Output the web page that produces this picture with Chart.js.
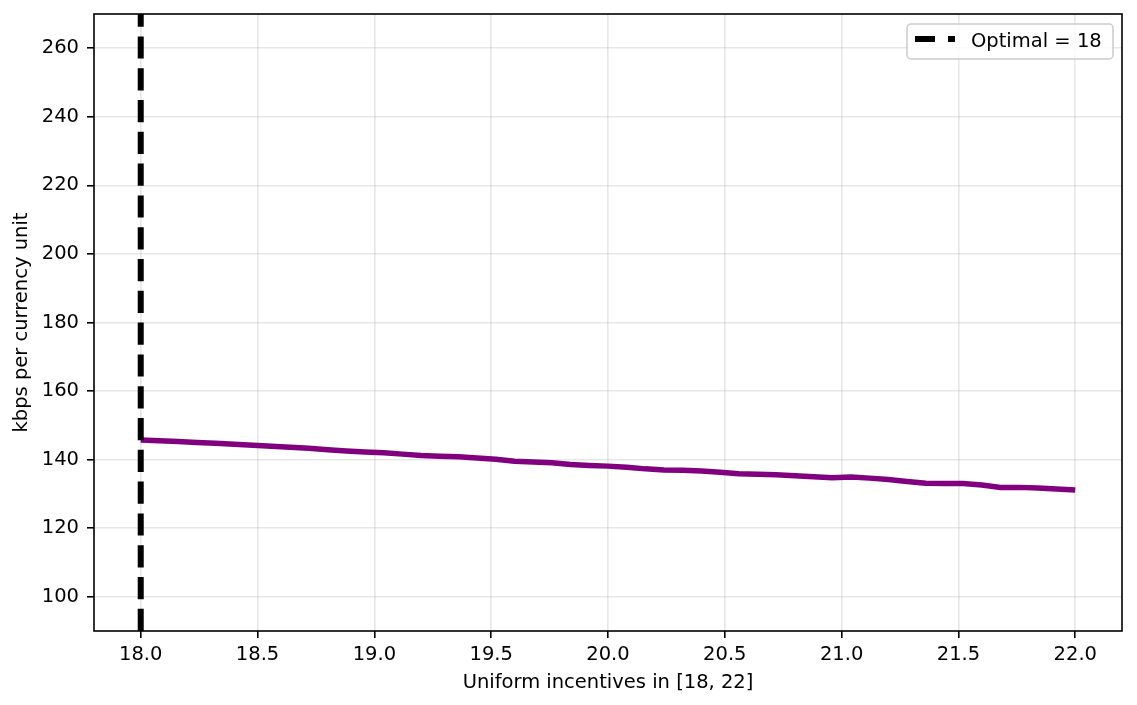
<!DOCTYPE html>
<html>
<head>
<meta charset="utf-8">
<script src="https://cdn.jsdelivr.net/npm/chart.js@4.4.1/dist/chart.umd.min.js"></script>
<style>
  html, body { margin: 0; padding: 0; background: #fff; }
  #wrap { width: 1137px; height: 705px; position: relative; }
</style>
</head>
<body>
<div id="wrap"><canvas id="chart" width="1137" height="705"></canvas></div>
<script>
// incentive values (x) and throughput per currency unit (y)
const incentives = [
  18.00, 18.08, 18.16, 18.24, 18.32, 18.40, 18.48, 18.56, 18.64, 18.72,
  18.80, 18.88, 18.96, 19.04, 19.12, 19.20, 19.28, 19.36, 19.44, 19.52,
  19.60, 19.68, 19.76, 19.84, 19.92, 20.00, 20.08, 20.16, 20.24, 20.32,
  20.40, 20.48, 20.56, 20.64, 20.72, 20.80, 20.88, 20.96, 21.04, 21.12,
  21.20, 21.28, 21.36, 21.44, 21.52, 21.60, 21.68, 21.76, 21.84, 21.92,
  22.00
];
const kbpsPerUnit = [
  145.7, 145.5, 145.3, 145.0, 144.8, 144.5, 144.2, 143.9, 143.6, 143.3,
  142.9, 142.5, 142.2, 142.0, 141.6, 141.2, 141.0, 140.8, 140.5, 140.1,
  139.5, 139.3, 139.1, 138.6, 138.3, 138.1, 137.8, 137.3, 137.0, 136.9,
  136.7, 136.3, 135.9, 135.7, 135.6, 135.3, 135.0, 134.7, 134.9, 134.6,
  134.2, 133.6, 133.1, 133.0, 133.0, 132.6, 131.9, 131.9, 131.7, 131.4,
  131.1
];
const optimalIncentive = 18;
const optimalLabel = 'Optimal = 18';
const xTicks = [18.0, 18.5, 19.0, 19.5, 20.0, 20.5, 21.0, 21.5, 22.0];
const yTicks = [100, 120, 140, 160, 180, 200, 220, 240, 260];
const xRange = [17.8, 22.2];
const yRange = [90, 270];

const FONT = { family: '"DejaVu Sans", sans-serif', size: 19.5 };
const DASH = [22.2, 9.6];
const GRID = 'rgba(176,176,176,0.3)';

// full box around the plot area (matplotlib style spines)
const frame = {
  id: 'frame',
  afterDraw(chart) {
    const { ctx, chartArea: a } = chart;
    ctx.save();
    ctx.strokeStyle = '#000';
    ctx.lineWidth = 1.6;
    ctx.strokeRect(a.left, a.top, a.right - a.left, a.bottom - a.top);
    ctx.restore();
  }
};

// legend box in the upper right corner
const boxLegend = {
  id: 'boxLegend',
  afterDraw(chart) {
    const { ctx, chartArea: a } = chart;
    const w = 206, h = 35;
    const x = a.right - 9 - w, y = a.top + 10;
    ctx.save();
    ctx.beginPath();
    ctx.roundRect(x, y, w, h, 4);
    ctx.fillStyle = 'rgba(255,255,255,0.8)';
    ctx.fill();
    ctx.strokeStyle = '#cccccc';
    ctx.lineWidth = 1.5;
    ctx.stroke();
    const cy = y + 15;
    ctx.beginPath();
    ctx.setLineDash([20, 13]);
    ctx.lineWidth = 6;
    ctx.strokeStyle = '#000';
    ctx.moveTo(x + 8, cy);
    ctx.lineTo(x + 48, cy);
    ctx.stroke();
    ctx.setLineDash([]);
    ctx.fillStyle = '#000';
    ctx.font = FONT.size + 'px ' + FONT.family;
    ctx.textBaseline = 'alphabetic';
    ctx.fillText(optimalLabel, x + 64, y + 23);
    ctx.restore();
  }
};

new Chart(document.getElementById('chart'), {
  type: 'line',
  data: {
    datasets: [
      {
        label: optimalLabel,
        data: [{ x: optimalIncentive, y: yRange[0] }, { x: optimalIncentive, y: yRange[1] }],
        borderColor: '#000',
        borderWidth: 6,
        borderDash: DASH,
        pointRadius: 0
      },
      {
        label: 'kbps per currency unit',
        data: incentives.map((v, i) => ({ x: v, y: kbpsPerUnit[i] })),
        borderColor: '#800080',
        borderWidth: 5.5,
        pointRadius: 0,
        tension: 0
      }
    ]
  },
  options: {
    responsive: false,
    animation: false,
    layout: { padding: { top: 14, right: 15, left: 0, bottom: 0 } },
    plugins: { legend: { display: false }, tooltip: { enabled: false } },
    scales: {
      x: {
        type: 'linear',
        min: xRange[0],
        max: xRange[1],
        afterBuildTicks: s => { s.ticks = xTicks.map(v => ({ value: v })); },
        afterFit: s => { s.height = 74; s.paddingLeft = 0; s.paddingRight = 0; },
        ticks: {
          color: '#000',
          font: FONT,
          padding: 5,
          maxRotation: 0,
          callback: v => v.toFixed(1)
        },
        grid: { color: GRID, tickColor: '#000', tickLength: 7, lineWidth: 1.6 },
        border: { display: false },
        title: { display: true, text: 'Uniform incentives in [18, 22]', color: '#000', font: FONT, padding: { top: 0, bottom: 10 } }
      },
      y: {
        type: 'linear',
        min: yRange[0],
        max: yRange[1],
        afterBuildTicks: s => { s.ticks = yTicks.map(v => ({ value: v })); },
        afterFit: s => { s.width = 94; s.paddingTop = 0; s.paddingBottom = 0; },
        ticks: { color: '#000', font: FONT, padding: 8 },
        grid: { color: GRID, tickColor: '#000', tickLength: 7, lineWidth: 1.6 },
        border: { display: false },
        title: { display: true, text: 'kbps per currency unit', color: '#000', font: FONT, padding: { top: 10, bottom: 0 } }
      }
    }
  },
  plugins: [frame, boxLegend]
});
</script>
</body>
</html>
